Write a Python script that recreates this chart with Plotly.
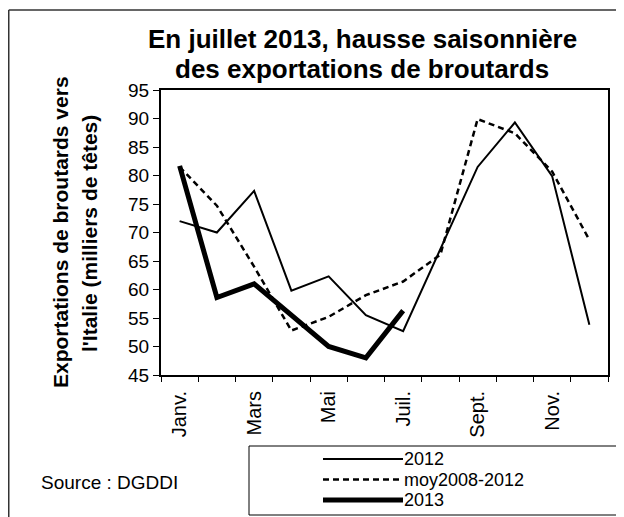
import plotly.graph_objects as go

# ---- data ----
months = ["Janv.", "Févr.", "Mars", "Avr.", "Mai", "Juin",
          "Juil.", "Août", "Sept.", "Oct.", "Nov.", "Déc."]
tick_labels = ["Janv.", "", "Mars", "", "Mai", "", "Juil.", "", "Sept.", "", "Nov.", ""]
y_2012 = [72.0, 70.0, 77.3, 59.8, 62.3, 55.5, 52.7, 67.1, 81.5, 89.3, 79.9, 53.8]
y_moy = [81.5, 74.7, 64.0, 52.8, 55.2, 59.0, 61.4, 66.1, 89.9, 87.4, 80.7, 68.7]
y_2013 = [81.7, 58.6, 61.0, 55.5, 50.0, 48.0, 56.3]
y_ticks = [45, 50, 55, 60, 65, 70, 75, 80, 85, 90, 95]
series_names = ["2012", "moy2008-2012", "2013"]

# ---- layout geometry (page pixels; the page body has an 8px margin) ----
OFF = 8
W, H = 624 - OFF, 517 - OFF
PL, PR, PT, PB = 161, 608, 90, 375          # plot area in page pixels
L, R, T, B = PL - OFF, W - (PR - OFF), PT - OFF, H - (PB - OFF)
PW, PH = PR - PL, PB - PT
FONT = "Liberation Sans, Arial, sans-serif"


def px(x):
    return (x - PL) / PW


def py(y):
    return (PB - y) / PH


line_styles = [dict(color="black", width=2),
               dict(color="black", width=2.5, dash="6px,4px"),
               dict(color="black", width=5)]

fig = go.Figure()
fig.add_trace(go.Scatter(x=months, y=y_2012, mode="lines", name=series_names[0],
                         line=line_styles[0], showlegend=False))
fig.add_trace(go.Scatter(x=months, y=y_moy, mode="lines", name=series_names[1],
                         line=line_styles[1], showlegend=False))
fig.add_trace(go.Scatter(x=months[:len(y_2013)], y=y_2013, mode="lines", name=series_names[2],
                         line=line_styles[2], showlegend=False))

fig.update_layout(
    width=W, height=H,
    margin=dict(l=L, r=R, t=T, b=B, autoexpand=False),
    paper_bgcolor="white", plot_bgcolor="white",
    font=dict(family=FONT, color="black", size=20),
    xaxis=dict(type="category", categoryorder="array", categoryarray=months,
               range=[-0.5, len(months) - 0.5],
               tickvals=months, ticktext=tick_labels, tickangle=-90,
               tickson="boundaries", ticks="outside", ticklen=5, tickwidth=1,
               tickcolor="black", showline=True, linecolor="black", linewidth=2,
               mirror=True, showgrid=False, zeroline=False, automargin=False,
               ticklabelstandoff=6,
               tickfont=dict(size=20, family=FONT)),
    yaxis=dict(range=[45, 95], tickvals=y_ticks, ticks="outside", ticklen=6,
               tickwidth=1, tickcolor="black", showline=True, linecolor="black",
               linewidth=2, mirror=True, showgrid=False, zeroline=False, automargin=False,
               tickfont=dict(size=19, family=FONT)),
)

annots = []
# title
annots.append(dict(text="<b>En juillet 2013, hausse saisonnière</b>", x=px(362), y=py(39),
                   xanchor="center", yanchor="middle", font=dict(size=26)))
annots.append(dict(text="<b>des exportations de broutards</b>", x=px(362), y=py(69),
                   xanchor="center", yanchor="middle", font=dict(size=26)))
# y axis title
annots.append(dict(text="<b>Exportations de broutards vers</b>", x=px(60), y=py(232),
                   xanchor="center", yanchor="middle", textangle=-90, font=dict(size=21)))
annots.append(dict(text="<b>l'Italie (milliers de têtes)</b>", x=px(89), y=py(234),
                   xanchor="center", yanchor="middle", textangle=-90, font=dict(size=21)))
# source
annots.append(dict(text="Source : DGDDI", x=px(39), y=py(482), xanchor="left",
                   yanchor="middle", font=dict(size=19)))

shapes = [
    # outer chart border (top and left)
    dict(type="line", xref="paper", yref="paper", x0=px(8.75), x1=px(640), y0=py(10), y1=py(10),
         line=dict(color="#333333", width=1.5)),
    dict(type="line", xref="paper", yref="paper", x0=px(8.75), x1=px(8.75), y0=py(10), y1=py(530),
         line=dict(color="#333333", width=1.5)),
    # legend box
    dict(type="rect", xref="paper", yref="paper", x0=px(249), x1=px(622), y0=py(446), y1=py(515),
         line=dict(color="black", width=1), fillcolor="white", layer="below"),
]

# legend entries (sample line + label)
leg_rows = [459, 479.5, 500]
for name, row, st in zip(series_names, leg_rows, line_styles):
    shapes.append(dict(type="line", xref="paper", yref="paper", x0=px(323), x1=px(403),
                       y0=py(row), y1=py(row), line=st))
    annots.append(dict(text=name, x=px(402), y=py(row), xanchor="left", yanchor="middle",
                       font=dict(size=18)))

for a in annots:
    a.update(xref="paper", yref="paper", showarrow=False)

fig.update_layout(annotations=annots, shapes=shapes)
fig.write_html("out.html")
